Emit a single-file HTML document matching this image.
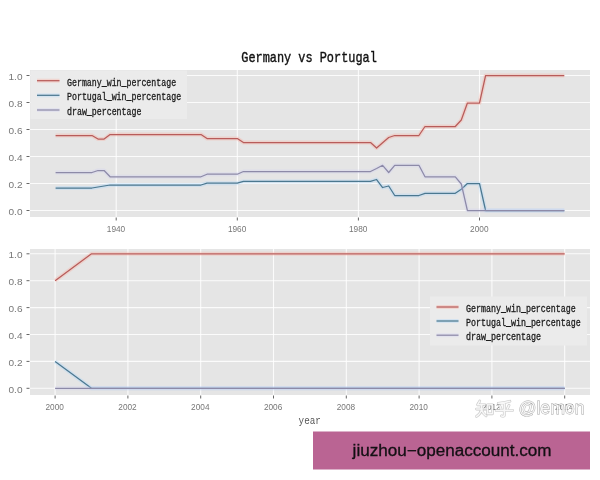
<!DOCTYPE html>
<html><head><meta charset="utf-8"><title>Germany vs Portugal</title><style>
html,body{margin:0;padding:0;background:#fff;}
body{width:600px;height:480px;overflow:hidden;font-family:"Liberation Sans",sans-serif;}
svg{display:block;filter:blur(0.4px)}
.tk{font-family:"Liberation Sans",sans-serif;font-size:9.5px;fill:#777}
.lg{font-family:"Liberation Mono",monospace;font-size:10px;fill:#1c1c1c;stroke:#1c1c1c;stroke-width:.3}
.tt{font-family:"Liberation Mono",monospace;font-size:15px;fill:#111;stroke:#111;stroke-width:.4}
.xl{font-family:"Liberation Mono",monospace;font-size:11.5px;fill:#555}
.wm{font-family:"Liberation Sans",sans-serif;font-size:18.5px;fill:#fff;fill-opacity:.85;stroke:#8c8c8c;stroke-opacity:.8;stroke-width:.9;paint-order:stroke}
.bn{font-family:"Liberation Sans",sans-serif;font-size:16px;fill:#141014;stroke:#141014;stroke-width:.3}
</style></head><body>
<svg width="600" height="480" viewBox="0 0 600 480">
<rect width="600" height="480" fill="#fff"/>
<rect x="30" y="70" width="560" height="147" fill="#e5e5e5"/>
<rect x="30" y="249" width="560" height="146" fill="#e5e5e5"/>
<line x1="30" x2="590" y1="210.5" y2="210.5" stroke="#fff" stroke-opacity=".85" stroke-width="1.1"/>
<line x1="26.5" x2="29.5" y1="210.5" y2="210.5" stroke="#666" stroke-width="1"/>
<text class="tk" x="8.5" y="215.0" textLength="14" lengthAdjust="spacingAndGlyphs">0.0</text>
<line x1="30" x2="590" y1="183.5" y2="183.5" stroke="#fff" stroke-opacity=".85" stroke-width="1.1"/>
<line x1="26.5" x2="29.5" y1="183.5" y2="183.5" stroke="#666" stroke-width="1"/>
<text class="tk" x="8.5" y="188.0" textLength="14" lengthAdjust="spacingAndGlyphs">0.2</text>
<line x1="30" x2="590" y1="156.5" y2="156.5" stroke="#fff" stroke-opacity=".85" stroke-width="1.1"/>
<line x1="26.5" x2="29.5" y1="156.5" y2="156.5" stroke="#666" stroke-width="1"/>
<text class="tk" x="8.5" y="161.0" textLength="14" lengthAdjust="spacingAndGlyphs">0.4</text>
<line x1="30" x2="590" y1="129.5" y2="129.5" stroke="#fff" stroke-opacity=".85" stroke-width="1.1"/>
<line x1="26.5" x2="29.5" y1="129.5" y2="129.5" stroke="#666" stroke-width="1"/>
<text class="tk" x="8.5" y="134.0" textLength="14" lengthAdjust="spacingAndGlyphs">0.6</text>
<line x1="30" x2="590" y1="102.5" y2="102.5" stroke="#fff" stroke-opacity=".85" stroke-width="1.1"/>
<line x1="26.5" x2="29.5" y1="102.5" y2="102.5" stroke="#666" stroke-width="1"/>
<text class="tk" x="8.5" y="107.0" textLength="14" lengthAdjust="spacingAndGlyphs">0.8</text>
<line x1="30" x2="590" y1="75.5" y2="75.5" stroke="#fff" stroke-opacity=".85" stroke-width="1.1"/>
<line x1="26.5" x2="29.5" y1="75.5" y2="75.5" stroke="#666" stroke-width="1"/>
<text class="tk" x="8.5" y="80.0" textLength="14" lengthAdjust="spacingAndGlyphs">1.0</text>
<line x1="116.2" x2="116.2" y1="70" y2="217" stroke="#fff" stroke-opacity=".85" stroke-width="1.1"/>
<line x1="116.2" x2="116.2" y1="217.5" y2="220.5" stroke="#666" stroke-width="1"/>
<text class="tk" x="106.8" y="232.0" textLength="18.4" lengthAdjust="spacingAndGlyphs">1940</text>
<line x1="237.3" x2="237.3" y1="70" y2="217" stroke="#fff" stroke-opacity=".85" stroke-width="1.1"/>
<line x1="237.3" x2="237.3" y1="217.5" y2="220.5" stroke="#666" stroke-width="1"/>
<text class="tk" x="227.9" y="232.0" textLength="18.4" lengthAdjust="spacingAndGlyphs">1960</text>
<line x1="358.4" x2="358.4" y1="70" y2="217" stroke="#fff" stroke-opacity=".85" stroke-width="1.1"/>
<line x1="358.4" x2="358.4" y1="217.5" y2="220.5" stroke="#666" stroke-width="1"/>
<text class="tk" x="349.0" y="232.0" textLength="18.4" lengthAdjust="spacingAndGlyphs">1980</text>
<line x1="479.5" x2="479.5" y1="70" y2="217" stroke="#fff" stroke-opacity=".85" stroke-width="1.1"/>
<line x1="479.5" x2="479.5" y1="217.5" y2="220.5" stroke="#666" stroke-width="1"/>
<text class="tk" x="470.1" y="232.0" textLength="18.4" lengthAdjust="spacingAndGlyphs">2000</text>
<line x1="30" x2="590" y1="388.3" y2="388.3" stroke="#fff" stroke-opacity=".85" stroke-width="1.1"/>
<line x1="26.5" x2="29.5" y1="388.3" y2="388.3" stroke="#666" stroke-width="1"/>
<text class="tk" x="8.5" y="392.8" textLength="14" lengthAdjust="spacingAndGlyphs">0.0</text>
<line x1="30" x2="590" y1="361.4" y2="361.4" stroke="#fff" stroke-opacity=".85" stroke-width="1.1"/>
<line x1="26.5" x2="29.5" y1="361.4" y2="361.4" stroke="#666" stroke-width="1"/>
<text class="tk" x="8.5" y="365.9" textLength="14" lengthAdjust="spacingAndGlyphs">0.2</text>
<line x1="30" x2="590" y1="334.5" y2="334.5" stroke="#fff" stroke-opacity=".85" stroke-width="1.1"/>
<line x1="26.5" x2="29.5" y1="334.5" y2="334.5" stroke="#666" stroke-width="1"/>
<text class="tk" x="8.5" y="339.0" textLength="14" lengthAdjust="spacingAndGlyphs">0.4</text>
<line x1="30" x2="590" y1="307.6" y2="307.6" stroke="#fff" stroke-opacity=".85" stroke-width="1.1"/>
<line x1="26.5" x2="29.5" y1="307.6" y2="307.6" stroke="#666" stroke-width="1"/>
<text class="tk" x="8.5" y="312.1" textLength="14" lengthAdjust="spacingAndGlyphs">0.6</text>
<line x1="30" x2="590" y1="280.7" y2="280.7" stroke="#fff" stroke-opacity=".85" stroke-width="1.1"/>
<line x1="26.5" x2="29.5" y1="280.7" y2="280.7" stroke="#666" stroke-width="1"/>
<text class="tk" x="8.5" y="285.2" textLength="14" lengthAdjust="spacingAndGlyphs">0.8</text>
<line x1="30" x2="590" y1="253.8" y2="253.8" stroke="#fff" stroke-opacity=".85" stroke-width="1.1"/>
<line x1="26.5" x2="29.5" y1="253.8" y2="253.8" stroke="#666" stroke-width="1"/>
<text class="tk" x="8.5" y="258.3" textLength="14" lengthAdjust="spacingAndGlyphs">1.0</text>
<line x1="55.1" x2="55.1" y1="249" y2="395" stroke="#fff" stroke-opacity=".85" stroke-width="1.1"/>
<line x1="55.1" x2="55.1" y1="395.5" y2="398.5" stroke="#666" stroke-width="1"/>
<text class="tk" x="45.5" y="410.0" textLength="18.4" lengthAdjust="spacingAndGlyphs">2000</text>
<line x1="127.9" x2="127.9" y1="249" y2="395" stroke="#fff" stroke-opacity=".85" stroke-width="1.1"/>
<line x1="127.9" x2="127.9" y1="395.5" y2="398.5" stroke="#666" stroke-width="1"/>
<text class="tk" x="118.3" y="410.0" textLength="18.4" lengthAdjust="spacingAndGlyphs">2002</text>
<line x1="200.7" x2="200.7" y1="249" y2="395" stroke="#fff" stroke-opacity=".85" stroke-width="1.1"/>
<line x1="200.7" x2="200.7" y1="395.5" y2="398.5" stroke="#666" stroke-width="1"/>
<text class="tk" x="191.1" y="410.0" textLength="18.4" lengthAdjust="spacingAndGlyphs">2004</text>
<line x1="273.5" x2="273.5" y1="249" y2="395" stroke="#fff" stroke-opacity=".85" stroke-width="1.1"/>
<line x1="273.5" x2="273.5" y1="395.5" y2="398.5" stroke="#666" stroke-width="1"/>
<text class="tk" x="263.9" y="410.0" textLength="18.4" lengthAdjust="spacingAndGlyphs">2006</text>
<line x1="346.3" x2="346.3" y1="249" y2="395" stroke="#fff" stroke-opacity=".85" stroke-width="1.1"/>
<line x1="346.3" x2="346.3" y1="395.5" y2="398.5" stroke="#666" stroke-width="1"/>
<text class="tk" x="336.7" y="410.0" textLength="18.4" lengthAdjust="spacingAndGlyphs">2008</text>
<line x1="419.1" x2="419.1" y1="249" y2="395" stroke="#fff" stroke-opacity=".85" stroke-width="1.1"/>
<line x1="419.1" x2="419.1" y1="395.5" y2="398.5" stroke="#666" stroke-width="1"/>
<text class="tk" x="409.5" y="410.0" textLength="18.4" lengthAdjust="spacingAndGlyphs">2010</text>
<line x1="491.9" x2="491.9" y1="249" y2="395" stroke="#fff" stroke-opacity=".85" stroke-width="1.1"/>
<line x1="491.9" x2="491.9" y1="395.5" y2="398.5" stroke="#666" stroke-width="1"/>
<text class="tk" x="482.3" y="410.0" textLength="18.4" lengthAdjust="spacingAndGlyphs">2012</text>
<line x1="564.7" x2="564.7" y1="249" y2="395" stroke="#fff" stroke-opacity=".85" stroke-width="1.1"/>
<line x1="564.7" x2="564.7" y1="395.5" y2="398.5" stroke="#666" stroke-width="1"/>
<text class="tk" x="555.1" y="410.0" textLength="18.4" lengthAdjust="spacingAndGlyphs">2014</text>
<polyline points="55.6,135.5 61.7,135.5 67.8,135.5 73.8,135.5 79.9,135.5 85.9,135.5 92.0,135.5 98.0,139.0 104.1,139.0 110.1,134.5 116.2,134.5 122.3,134.5 128.3,134.5 134.4,134.5 140.4,134.5 146.5,134.5 152.5,134.5 158.6,134.5 164.6,134.5 170.7,134.5 176.8,134.5 182.8,134.5 188.9,134.5 194.9,134.5 201.0,134.5 207.0,138.5 213.1,138.5 219.1,138.5 225.2,138.5 231.2,138.5 237.3,138.5 243.4,142.5 249.4,142.5 255.5,142.5 261.5,142.5 267.6,142.5 273.6,142.5 279.7,142.5 285.7,142.5 291.8,142.5 297.8,142.5 303.9,142.5 310.0,142.5 316.0,142.5 322.1,142.5 328.1,142.5 334.2,142.5 340.2,142.5 346.3,142.5 352.3,142.5 358.4,142.5 364.5,142.5 370.5,142.5 376.6,148.0 382.6,142.7 388.7,137.5 394.7,135.5 400.8,135.5 406.8,135.5 412.9,135.5 418.9,135.5 425.0,126.5 431.1,126.5 437.1,126.5 443.2,126.5 449.2,126.5 455.3,126.5 461.3,120.0 467.4,103.0 473.4,103.0 479.5,103.0 485.6,75.5 491.6,75.5 497.7,75.5 503.7,75.5 509.8,75.5 515.8,75.5 521.9,75.5 527.9,75.5 534.0,75.5 540.0,75.5 546.1,75.5 552.2,75.5 558.2,75.5 564.3,75.5" fill="none" stroke="#ff9d8c" stroke-opacity=".28" stroke-width="4" stroke-linejoin="round"/><polyline points="55.6,135.5 61.7,135.5 67.8,135.5 73.8,135.5 79.9,135.5 85.9,135.5 92.0,135.5 98.0,139.0 104.1,139.0 110.1,134.5 116.2,134.5 122.3,134.5 128.3,134.5 134.4,134.5 140.4,134.5 146.5,134.5 152.5,134.5 158.6,134.5 164.6,134.5 170.7,134.5 176.8,134.5 182.8,134.5 188.9,134.5 194.9,134.5 201.0,134.5 207.0,138.5 213.1,138.5 219.1,138.5 225.2,138.5 231.2,138.5 237.3,138.5 243.4,142.5 249.4,142.5 255.5,142.5 261.5,142.5 267.6,142.5 273.6,142.5 279.7,142.5 285.7,142.5 291.8,142.5 297.8,142.5 303.9,142.5 310.0,142.5 316.0,142.5 322.1,142.5 328.1,142.5 334.2,142.5 340.2,142.5 346.3,142.5 352.3,142.5 358.4,142.5 364.5,142.5 370.5,142.5 376.6,148.0 382.6,142.7 388.7,137.5 394.7,135.5 400.8,135.5 406.8,135.5 412.9,135.5 418.9,135.5 425.0,126.5 431.1,126.5 437.1,126.5 443.2,126.5 449.2,126.5 455.3,126.5 461.3,120.0 467.4,103.0 473.4,103.0 479.5,103.0 485.6,75.5 491.6,75.5 497.7,75.5 503.7,75.5 509.8,75.5 515.8,75.5 521.9,75.5 527.9,75.5 534.0,75.5 540.0,75.5 546.1,75.5 552.2,75.5 558.2,75.5 564.3,75.5" fill="none" stroke="#b85c5a" stroke-width="1.25" stroke-linejoin="round" stroke-linecap="butt"/>
<polyline points="55.6,188.0 61.7,188.0 67.8,188.0 73.8,188.0 79.9,188.0 85.9,188.0 92.0,188.0 98.0,187.0 104.1,186.0 110.1,185.0 116.2,185.0 122.3,185.0 128.3,185.0 134.4,185.0 140.4,185.0 146.5,185.0 152.5,185.0 158.6,185.0 164.6,185.0 170.7,185.0 176.8,185.0 182.8,185.0 188.9,185.0 194.9,185.0 201.0,185.0 207.0,183.2 213.1,183.2 219.1,183.2 225.2,183.2 231.2,183.2 237.3,183.2 243.4,181.4 249.4,181.4 255.5,181.4 261.5,181.4 267.6,181.4 273.6,181.4 279.7,181.4 285.7,181.4 291.8,181.4 297.8,181.4 303.9,181.4 310.0,181.4 316.0,181.4 322.1,181.4 328.1,181.4 334.2,181.4 340.2,181.4 346.3,181.4 352.3,181.4 358.4,181.4 364.5,181.4 370.5,181.4 376.6,179.5 382.6,187.5 388.7,186.0 394.7,195.5 400.8,195.5 406.8,195.5 412.9,195.5 418.9,195.5 425.0,193.3 431.1,193.3 437.1,193.3 443.2,193.3 449.2,193.3 455.3,193.3 461.3,189.3 467.4,183.5 473.4,183.5 479.5,183.5 485.6,210.5 491.6,210.5 497.7,210.5 503.7,210.5 509.8,210.5 515.8,210.5 521.9,210.5 527.9,210.5 534.0,210.5 540.0,210.5 546.1,210.5 552.2,210.5 558.2,210.5 564.3,210.5" fill="none" stroke="#9cd0ff" stroke-opacity=".28" stroke-width="4" stroke-linejoin="round"/><polyline points="55.6,188.0 61.7,188.0 67.8,188.0 73.8,188.0 79.9,188.0 85.9,188.0 92.0,188.0 98.0,187.0 104.1,186.0 110.1,185.0 116.2,185.0 122.3,185.0 128.3,185.0 134.4,185.0 140.4,185.0 146.5,185.0 152.5,185.0 158.6,185.0 164.6,185.0 170.7,185.0 176.8,185.0 182.8,185.0 188.9,185.0 194.9,185.0 201.0,185.0 207.0,183.2 213.1,183.2 219.1,183.2 225.2,183.2 231.2,183.2 237.3,183.2 243.4,181.4 249.4,181.4 255.5,181.4 261.5,181.4 267.6,181.4 273.6,181.4 279.7,181.4 285.7,181.4 291.8,181.4 297.8,181.4 303.9,181.4 310.0,181.4 316.0,181.4 322.1,181.4 328.1,181.4 334.2,181.4 340.2,181.4 346.3,181.4 352.3,181.4 358.4,181.4 364.5,181.4 370.5,181.4 376.6,179.5 382.6,187.5 388.7,186.0 394.7,195.5 400.8,195.5 406.8,195.5 412.9,195.5 418.9,195.5 425.0,193.3 431.1,193.3 437.1,193.3 443.2,193.3 449.2,193.3 455.3,193.3 461.3,189.3 467.4,183.5 473.4,183.5 479.5,183.5 485.6,210.5 491.6,210.5 497.7,210.5 503.7,210.5 509.8,210.5 515.8,210.5 521.9,210.5 527.9,210.5 534.0,210.5 540.0,210.5 546.1,210.5 552.2,210.5 558.2,210.5 564.3,210.5" fill="none" stroke="#4b7890" stroke-width="1.25" stroke-linejoin="round" stroke-linecap="butt"/>
<polyline points="55.6,172.5 61.7,172.5 67.8,172.5 73.8,172.5 79.9,172.5 85.9,172.5 92.0,172.5 98.0,170.5 104.1,170.5 110.1,176.8 116.2,176.8 122.3,176.8 128.3,176.8 134.4,176.8 140.4,176.8 146.5,176.8 152.5,176.8 158.6,176.8 164.6,176.8 170.7,176.8 176.8,176.8 182.8,176.8 188.9,176.8 194.9,176.8 201.0,176.8 207.0,174.2 213.1,174.2 219.1,174.2 225.2,174.2 231.2,174.2 237.3,174.2 243.4,171.5 249.4,171.5 255.5,171.5 261.5,171.5 267.6,171.5 273.6,171.5 279.7,171.5 285.7,171.5 291.8,171.5 297.8,171.5 303.9,171.5 310.0,171.5 316.0,171.5 322.1,171.5 328.1,171.5 334.2,171.5 340.2,171.5 346.3,171.5 352.3,171.5 358.4,171.5 364.5,171.5 370.5,171.5 376.6,168.5 382.6,165.3 388.7,172.5 394.7,165.3 400.8,165.3 406.8,165.3 412.9,165.3 418.9,165.3 425.0,176.8 431.1,176.8 437.1,176.8 443.2,176.8 449.2,176.8 455.3,176.8 461.3,184.0 467.4,210.5 473.4,210.5 479.5,210.5 485.6,210.5 491.6,210.5 497.7,210.5 503.7,210.5 509.8,210.5 515.8,210.5 521.9,210.5 527.9,210.5 534.0,210.5 540.0,210.5 546.1,210.5 552.2,210.5 558.2,210.5 564.3,210.5" fill="none" stroke="#ccccf4" stroke-opacity=".28" stroke-width="4" stroke-linejoin="round"/><polyline points="55.6,172.5 61.7,172.5 67.8,172.5 73.8,172.5 79.9,172.5 85.9,172.5 92.0,172.5 98.0,170.5 104.1,170.5 110.1,176.8 116.2,176.8 122.3,176.8 128.3,176.8 134.4,176.8 140.4,176.8 146.5,176.8 152.5,176.8 158.6,176.8 164.6,176.8 170.7,176.8 176.8,176.8 182.8,176.8 188.9,176.8 194.9,176.8 201.0,176.8 207.0,174.2 213.1,174.2 219.1,174.2 225.2,174.2 231.2,174.2 237.3,174.2 243.4,171.5 249.4,171.5 255.5,171.5 261.5,171.5 267.6,171.5 273.6,171.5 279.7,171.5 285.7,171.5 291.8,171.5 297.8,171.5 303.9,171.5 310.0,171.5 316.0,171.5 322.1,171.5 328.1,171.5 334.2,171.5 340.2,171.5 346.3,171.5 352.3,171.5 358.4,171.5 364.5,171.5 370.5,171.5 376.6,168.5 382.6,165.3 388.7,172.5 394.7,165.3 400.8,165.3 406.8,165.3 412.9,165.3 418.9,165.3 425.0,176.8 431.1,176.8 437.1,176.8 443.2,176.8 449.2,176.8 455.3,176.8 461.3,184.0 467.4,210.5 473.4,210.5 479.5,210.5 485.6,210.5 491.6,210.5 497.7,210.5 503.7,210.5 509.8,210.5 515.8,210.5 521.9,210.5 527.9,210.5 534.0,210.5 540.0,210.5 546.1,210.5 552.2,210.5 558.2,210.5 564.3,210.5" fill="none" stroke="#8d8aa8" stroke-width="1.25" stroke-linejoin="round" stroke-linecap="butt"/>
<polyline points="55.1,280.7 91.5,253.8 127.9,253.8 164.3,253.8 200.7,253.8 237.1,253.8 273.5,253.8 309.9,253.8 346.3,253.8 382.7,253.8 419.1,253.8 455.5,253.8 491.9,253.8 528.3,253.8 564.7,253.8" fill="none" stroke="#ff9d8c" stroke-opacity=".28" stroke-width="4" stroke-linejoin="round"/><polyline points="55.1,280.7 91.5,253.8 127.9,253.8 164.3,253.8 200.7,253.8 237.1,253.8 273.5,253.8 309.9,253.8 346.3,253.8 382.7,253.8 419.1,253.8 455.5,253.8 491.9,253.8 528.3,253.8 564.7,253.8" fill="none" stroke="#b85c5a" stroke-width="1.25" stroke-linejoin="round" stroke-linecap="butt"/>
<polyline points="55.1,361.4 91.5,388.3 127.9,388.3 164.3,388.3 200.7,388.3 237.1,388.3 273.5,388.3 309.9,388.3 346.3,388.3 382.7,388.3 419.1,388.3 455.5,388.3 491.9,388.3 528.3,388.3 564.7,388.3" fill="none" stroke="#9cd0ff" stroke-opacity=".28" stroke-width="4" stroke-linejoin="round"/><polyline points="55.1,361.4 91.5,388.3 127.9,388.3 164.3,388.3 200.7,388.3 237.1,388.3 273.5,388.3 309.9,388.3 346.3,388.3 382.7,388.3 419.1,388.3 455.5,388.3 491.9,388.3 528.3,388.3 564.7,388.3" fill="none" stroke="#4b7890" stroke-width="1.25" stroke-linejoin="round" stroke-linecap="butt"/>
<polyline points="55.1,388.3 91.5,388.3 127.9,388.3 164.3,388.3 200.7,388.3 237.1,388.3 273.5,388.3 309.9,388.3 346.3,388.3 382.7,388.3 419.1,388.3 455.5,388.3 491.9,388.3 528.3,388.3 564.7,388.3" fill="none" stroke="#ccccf4" stroke-opacity=".28" stroke-width="4" stroke-linejoin="round"/><polyline points="55.1,388.3 91.5,388.3 127.9,388.3 164.3,388.3 200.7,388.3 237.1,388.3 273.5,388.3 309.9,388.3 346.3,388.3 382.7,388.3 419.1,388.3 455.5,388.3 491.9,388.3 528.3,388.3 564.7,388.3" fill="none" stroke="#8d8aa8" stroke-width="1.25" stroke-linejoin="round" stroke-linecap="butt"/>
<rect x="30.5" y="70.5" width="156.5" height="48.5" fill="#eaeaea" fill-opacity="0.97"/>
<line x1="37.0" x2="59.5" y1="80.7" y2="80.7" stroke="#ff9d8c" stroke-opacity=".28" stroke-width="4"/>
<line x1="37.0" x2="59.5" y1="80.7" y2="80.7" stroke="#b85c5a" stroke-width="1.25"/>
<text class="lg" x="67.0" y="85.6" textLength="109.1" lengthAdjust="spacingAndGlyphs">Germany_win_percentage</text>
<line x1="37.0" x2="59.5" y1="95.3" y2="95.3" stroke="#9cd0ff" stroke-opacity=".28" stroke-width="4"/>
<line x1="37.0" x2="59.5" y1="95.3" y2="95.3" stroke="#4b7890" stroke-width="1.25"/>
<text class="lg" x="67.0" y="100.2" textLength="114.1" lengthAdjust="spacingAndGlyphs">Portugal_win_percentage</text>
<line x1="37.0" x2="59.5" y1="110.0" y2="110.0" stroke="#ccccf4" stroke-opacity=".28" stroke-width="4"/>
<line x1="37.0" x2="59.5" y1="110.0" y2="110.0" stroke="#8d8aa8" stroke-width="1.25"/>
<text class="lg" x="67.0" y="114.8" textLength="74.4" lengthAdjust="spacingAndGlyphs">draw_percentage</text>
<rect x="430.0" y="296.5" width="157.0" height="49.0" fill="#eaeaea" fill-opacity="0.97"/>
<line x1="436.5" x2="458.5" y1="307.0" y2="307.0" stroke="#ff9d8c" stroke-opacity=".28" stroke-width="4"/>
<line x1="436.5" x2="458.5" y1="307.0" y2="307.0" stroke="#b85c5a" stroke-width="1.25"/>
<text class="lg" x="466.0" y="311.6" textLength="109.8" lengthAdjust="spacingAndGlyphs">Germany_win_percentage</text>
<line x1="436.5" x2="458.5" y1="321.0" y2="321.0" stroke="#9cd0ff" stroke-opacity=".28" stroke-width="4"/>
<line x1="436.5" x2="458.5" y1="321.0" y2="321.0" stroke="#4b7890" stroke-width="1.25"/>
<text class="lg" x="466.0" y="325.8" textLength="114.8" lengthAdjust="spacingAndGlyphs">Portugal_win_percentage</text>
<line x1="436.5" x2="458.5" y1="335.2" y2="335.2" stroke="#ccccf4" stroke-opacity=".28" stroke-width="4"/>
<line x1="436.5" x2="458.5" y1="335.2" y2="335.2" stroke="#8d8aa8" stroke-width="1.25"/>
<text class="lg" x="466.0" y="340.2" textLength="74.9" lengthAdjust="spacingAndGlyphs">draw_percentage</text>
<text class="tt" x="241.3" y="62.0" textLength="135.5" lengthAdjust="spacingAndGlyphs">Germany vs Portugal</text>
<text class="xl" x="298.6" y="424.3" textLength="22.3" lengthAdjust="spacingAndGlyphs">year</text>
<g fill="none" stroke="#9a9a9a" stroke-opacity=".55" stroke-width="2.6" stroke-linecap="round" stroke-linejoin="round" transform="translate(476,400) scale(1.06)"><path d="M3.5 1 L1.5 4.5 M2.5 4.5 H8.5 M0.5 8.5 H9.5 M5.2 4.5 V8.5 Q4.8 12.5 0.5 15.5 M5.4 9.5 Q6.5 13 9.5 15 M11 4.5 H15.5 V13 H11 Z"/><path transform="translate(18.5,0)" d="M13.5 1.2 Q8 2.8 2.5 3.2 M3.8 5.2 L5 8 M12.6 5 L11.2 8 M0.5 9.8 H16 M8.2 3 V14.3 Q8.2 15.8 5.6 15"/></g>
<g fill="none" stroke="#fff" stroke-opacity=".85" stroke-width="1.5" stroke-linecap="round" stroke-linejoin="round" transform="translate(476,400) scale(1.06)"><path d="M3.5 1 L1.5 4.5 M2.5 4.5 H8.5 M0.5 8.5 H9.5 M5.2 4.5 V8.5 Q4.8 12.5 0.5 15.5 M5.4 9.5 Q6.5 13 9.5 15 M11 4.5 H15.5 V13 H11 Z"/><path transform="translate(18.5,0)" d="M13.5 1.2 Q8 2.8 2.5 3.2 M3.8 5.2 L5 8 M12.6 5 L11.2 8 M0.5 9.8 H16 M8.2 3 V14.3 Q8.2 15.8 5.6 15"/></g>
<text class="wm" x="518.5" y="413.6" textLength="66" lengthAdjust="spacingAndGlyphs">@lemon</text>
<rect x="313" y="431.5" width="277" height="38" fill="#ba6493"/>
<text class="bn" x="352.6" y="455.8" textLength="199" lengthAdjust="spacingAndGlyphs">jiuzhou−openaccount.com</text>
</svg>
</body></html>
